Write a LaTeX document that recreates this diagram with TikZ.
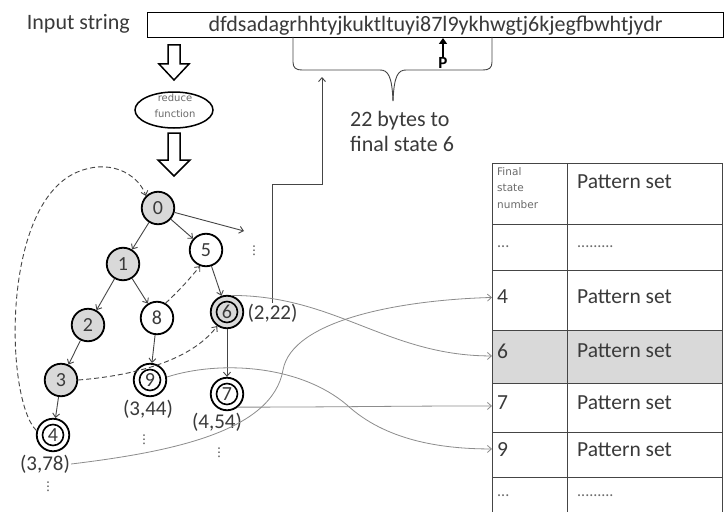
\documentclass[tikz,border=0pt]{standalone}
\usepackage{fontspec}
\setmainfont{Carlito}
\newfontfamily\smallsans{DejaVu Sans}
\usetikzlibrary{arrows.meta,shapes.geometric,calc}
\definecolor{tg}{HTML}{3A3A3A}
\definecolor{lg}{HTML}{6A6A6A}
\definecolor{gfill}{HTML}{D9D9D9}
\definecolor{cg}{HTML}{8C8C8C}
\definecolor{ln}{HTML}{454545}
\begin{document}
\begin{tikzpicture}[x=1pt,y=-1pt,
  st/.style={circle,draw=black,line width=1.8pt,minimum size=32.5pt,inner sep=0pt,font=\fontsize{20}{20}\selectfont,text=tg},
  gst/.style={st,fill=gfill},
  tr/.style={draw=ln,line width=0.9pt,-{Straight Barb[length=4pt,width=7pt]}},
  fl/.style={draw=ln,line width=0.9pt,dash pattern=on 5pt off 3pt,-{Straight Barb[length=4pt,width=7pt]}},
  gc/.style={draw=cg,line width=0.8pt,-{Straight Barb[length=4pt,width=7pt]}},
  lbl/.style={font=\fontsize{21}{21}\selectfont,text=tg,inner sep=1pt},
  vd/.style={font=\smallsans\fontsize{12}{12}\selectfont,text=tg,inner sep=0pt},
  big/.style={font=\fontsize{22}{22}\selectfont,text=tg},
  cell/.style={draw=ln,line width=0.9pt,anchor=north west,inner sep=0pt},
  ttxt/.style={font=\fontsize{21.5}{21.5}\selectfont,text=tg,anchor=west,inner sep=0pt},
  tdots/.style={font=\fontsize{16}{16}\selectfont,text=lg,anchor=west,inner sep=0pt},
  small/.style={font=\smallsans\fontsize{10}{16}\selectfont,text=lg,align=center,inner sep=0pt},
  hollow/.style={draw=black,line width=1.5pt,fill=white}
]
\path[use as bounding box] (0,0) rectangle (725,511);
\clip (0,0) rectangle (725,511);
\fill[white] (0,0) rectangle (725,511);

% input string
\node[big,anchor=east,inner sep=0pt] (inlbl) at (130,24) {Input string};
\node[draw=black,line width=1.3pt,minimum width=576pt,minimum height=25pt,anchor=north west,inner sep=0pt,big] (inbox) at (147,12) {dfdsadagrhhtyjkuktltuyi87l9ykhwgtj6kjegfbwhtjydr};

% brace
\draw[draw=ln,line width=0.9pt] (293,37) -- (293,62) .. controls (293,68) and (296,70) .. (302,70) -- (380,70) .. controls (388,70) and (392,76) .. (393,101);
\draw[draw=ln,line width=0.9pt] (492,37) -- (492,62) .. controls (492,68) and (489,70) .. (483,70) -- (406,70) .. controls (398,70) and (394,76) .. (393,101);

% P pointer
\node[font=\bfseries\fontsize{17}{17}\selectfont,inner sep=0pt,text=black] (P) at (443,63) {P};
\coordinate (ptip) at (443,38);
\draw[line width=2pt,-{Triangle[length=6pt,width=8pt]}] (P.north) -- (ptip);

% note
\node[big,align=left,anchor=west,inner sep=0pt,font=\fontsize{22}{25}\selectfont] (note) at (350,131) {22 bytes to\\final state 6};

% hollow arrows + reduce function
\draw[hollow] (168,45) -- (180,45) -- (180,64) -- (189,64) -- (174,80) -- (159,64) -- (168,64) -- cycle;
\node[ellipse,draw=black,line width=1.5pt,minimum width=78pt,minimum height=36pt,inner sep=0pt] (rf) at (174,110) {};
\node[small] (rft) at (175,106) {reduce\\function};
\draw[hollow] (168,133) -- (180,133) -- (180,160) -- (190,160) -- (174,176) -- (158,160) -- (168,160) -- cycle;

% table
\node[cell,minimum width=75pt,minimum height=61pt] (ch) at (492,163) {};
\node[cell,minimum width=155pt,minimum height=61pt] (ph) at (567,163) {};
\node[cell,minimum width=75pt,minimum height=46pt] (cd1) at (492,224) {};
\node[cell,minimum width=155pt,minimum height=46pt] (pd1) at (567,224) {};
\node[cell,minimum width=75pt,minimum height=60pt] (c4) at (492,270) {};
\node[cell,minimum width=155pt,minimum height=60pt] (p4) at (567,270) {};
\node[cell,fill=gfill,minimum width=75pt,minimum height=53pt] (c6) at (492,330) {};
\node[cell,fill=gfill,minimum width=155pt,minimum height=53pt] (p6) at (567,330) {};
\node[cell,minimum width=75pt,minimum height=49pt] (c7) at (492,383) {};
\node[cell,minimum width=155pt,minimum height=49pt] (p7) at (567,383) {};
\node[cell,minimum width=75pt,minimum height=45pt] (c9) at (492,432) {};
\node[cell,minimum width=155pt,minimum height=45pt] (p9) at (567,432) {};
\node[cell,minimum width=75pt,minimum height=45pt] (cd2) at (492,477) {};
\node[cell,minimum width=155pt,minimum height=45pt] (pd2) at (567,477) {};

\node[small,font=\smallsans\fontsize{10.5}{16.5}\selectfont,align=left,anchor=west] (tfs) at (497,188) {Final\\state\\number};
\node[ttxt] (tph) at (577,182) {Pattern set};
\node[tdots] (td1) at (497,247) {...};
\node[tdots] (tpd1) at (577,247) {.........};
\node[ttxt] (t4) at (497,297) {4};
\node[ttxt] (tp4) at (577,297) {Pattern set};
\node[ttxt] (t6) at (497,351) {6};
\node[ttxt] (tp6) at (577,351) {Pattern set};
\node[ttxt] (t7) at (497,403) {7};
\node[ttxt] (tp7) at (577,403) {Pattern set};
\node[ttxt] (t9) at (497,450) {9};
\node[ttxt] (tp9) at (577,450) {Pattern set};
\node[tdots] (td2) at (497,496) {...};
\node[tdots] (tpd2) at (577,496) {.........};

% states
\node[gst] (n0) at (158,208) {0};
\node[gst] (n1) at (123,264) {1};
\node[st]  (n5) at (206,250) {5};
\node[gst] (n2) at (88,325) {2};
\node[st]  (n8) at (157,318) {8};
\node[gst] (n6) at (227,312) {6};
\node[gst] (n3) at (61,380) {3};
\node[st]  (n9) at (150,380) {9};
\node[st]  (n7) at (227,394) {7};
\node[st]  (n4) at (53,435) {4};
\foreach \n in {n6,n9,n7,n4} \draw[line width=1.6pt] (\n.center) circle (10.5pt);

% labels
\node[lbl] (l222) at (272.5,313) {(2,22)};
\node[lbl] (l344) at (148,409) {(3,44)};
\node[lbl] (l454) at (217,422) {(4,54)};
\node[lbl] (l378) at (45,464) {(3,78)};
\node[vd] (d5) at (254,251) {⋮};
\node[vd] (d9) at (144,440) {⋮};
\node[vd] (d7) at (219,453) {⋮};
\node[vd] (d4) at (48,487) {⋮};

% transitions
\coordinate (stub) at (244,231);
\draw[tr] (n0) -- (stub);
\draw[tr] (n0) -- (n1);
\draw[tr] (n0) -- (n5);
\draw[tr] (n1) -- (n2);
\draw[tr] (n1) -- (n8);
\draw[tr] (n2) -- (n3);
\draw[tr] (n5) -- (n6);
\draw[tr] (n8) -- (n9);
\draw[tr] (n6) -- (n7);
\draw[tr] (n3) -- (n4);

% failure links
\draw[fl] (n4.165) .. controls (5,400) and (0,200) .. (80,171) .. controls (115,158) and (140,178) .. (n0.135);
\draw[fl] (n8.60) .. controls (182,288) and (190,278) .. (n5.-110);
\draw[fl] (n3.east) .. controls (130,376) and (190,362) .. (n6.-125);

% pointer to string
\coordinate (bk) at (322,184);
\coordinate (btip) at (322,77);
\draw[tr] (l222.north) |- (bk) -- (btip);

% links to table
\draw[gc] (n6.75) to[out=0,in=180] ($(c6.west)+(0,-1)$);
\draw[gc] (l378.east) .. controls (170,452) and (272,432) .. (283,370) .. controls (292,320) and (400,300) .. ($(c4.west)+(0,-3)$);
\draw[gc] (n9.10) .. controls (220,360) and (300,365) .. (347,405) .. controls (385,440) and (440,449) .. ($(c9.west)+(0,-6)$);
\draw[gc] (n7.-50) to[out=0,in=180] ($(c7.west)+(0,-2)$);
\end{tikzpicture}
\end{document}
